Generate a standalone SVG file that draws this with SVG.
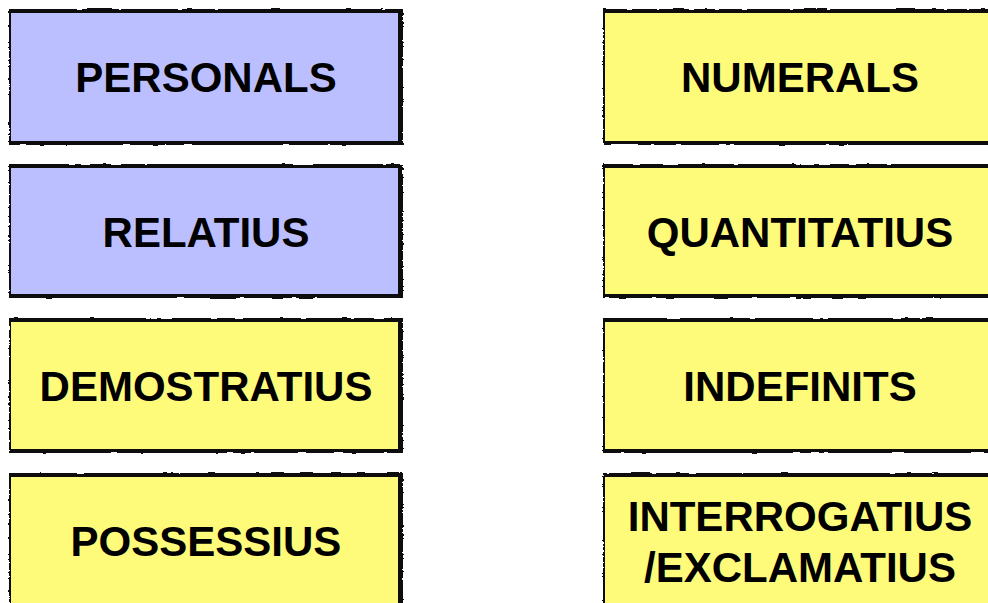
<svg xmlns="http://www.w3.org/2000/svg" width="988" height="603" viewBox="0 0 988 603">
<defs>
<filter id="rough" x="-5%" y="-5%" width="110%" height="110%">
<feTurbulence type="fractalNoise" baseFrequency="0.08 0.5" numOctaves="2" seed="3" result="n"/>
<feDisplacementMap in="SourceGraphic" in2="n" scale="3" xChannelSelector="R" yChannelSelector="G"/>
</filter>
</defs>
<style>
.frame{fill:#111;filter:url(#rough)}
.blue{fill:#BBBFFF}
.yellow{fill:#FFFB7A}
.lbl{font-family:"Liberation Sans",Arial,Helvetica,sans-serif;font-weight:bold;font-size:42px;fill:#000;text-anchor:middle}
</style>
<rect width="988" height="603" fill="#fff"/>
<g id="personals">
<rect class="frame" x="9" y="9" width="394" height="136"/>
<rect class="blue" x="11" y="13" width="387" height="128"/>
<text class="lbl" x="206" y="92">PERSONALS</text>
</g>
<g id="relatius">
<rect class="frame" x="9" y="164" width="394" height="134"/>
<rect class="blue" x="11" y="168" width="387" height="126"/>
<text class="lbl" x="206" y="247">RELATIUS</text>
</g>
<g id="demostratius">
<rect class="frame" x="9" y="318" width="394" height="135"/>
<rect class="yellow" x="11" y="322" width="387" height="127"/>
<text class="lbl" x="206" y="401">DEMOSTRATIUS</text>
</g>
<g id="possessius">
<rect class="frame" x="9" y="473" width="394" height="140"/>
<rect class="yellow" x="11" y="477" width="387" height="140"/>
<text class="lbl" x="206" y="556">POSSESSIUS</text>
</g>
<g id="numerals">
<rect class="frame" x="603" y="9" width="394" height="136"/>
<rect class="yellow" x="605" y="13" width="387" height="128"/>
<text class="lbl" x="800" y="92">NUMERALS</text>
</g>
<g id="quantitatius">
<rect class="frame" x="603" y="164" width="394" height="134"/>
<rect class="yellow" x="605" y="168" width="387" height="126"/>
<text class="lbl" x="800" y="247">QUANTITATIUS</text>
</g>
<g id="indefinits">
<rect class="frame" x="603" y="318" width="394" height="135"/>
<rect class="yellow" x="605" y="322" width="387" height="127"/>
<text class="lbl" x="800" y="401">INDEFINITS</text>
</g>
<g id="interrogatius">
<rect class="frame" x="603" y="473" width="394" height="140"/>
<rect class="yellow" x="605" y="477" width="387" height="140"/>
<text class="lbl" x="800" y="531">INTERROGATIUS</text>
<text class="lbl" x="800" y="582">/EXCLAMATIUS</text>
</g>
<g id="connectors"/>
</svg>
